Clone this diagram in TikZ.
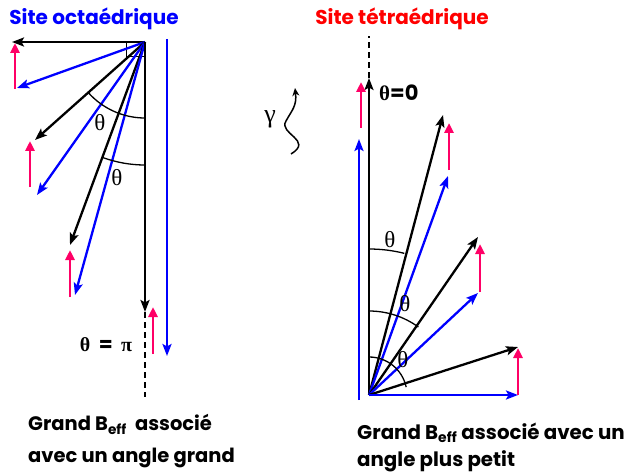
\documentclass[tikz,border=0pt]{standalone}
\usepackage{fontspec}
\setmainfont{Poppins}
\newfontfamily\grk{Liberation Serif}
\usetikzlibrary{arrows.meta}
\definecolor{vblue}{RGB}{0,0,255}
\definecolor{vpink}{RGB}{255,0,102}
\definecolor{vred}{RGB}{255,0,0}
\begin{document}
\begin{tikzpicture}[x=1pt,y=-1pt,
  vec/.style={line width=2.3pt,-{Stealth[length=12pt,width=9pt,inset=2.5pt]}},
  kvec/.style={vec,black},
  bvec/.style={vec,vblue},
  pvec/.style={line width=2.8pt,vpink,-{Triangle[length=10pt,width=9pt]}},
  arcl/.style={line width=1.3pt},
  ttl/.style={font=\fontsize{20}{22}\selectfont\bfseries,inner sep=0pt},
  txt/.style={font=\bfseries,inner sep=0pt,align=left,anchor=west},
  th/.style={font=\grk\fontsize{23}{23}\selectfont,inner sep=0pt}]
\useasboundingbox (0,0) rectangle (629,476);
% titles
\node[ttl,text=vblue] (t1) at (94,19) {Site octaédrique};
\node[ttl,text=vred] (t2) at (402,19) {Site tétraédrique};
% ---------- left
\coordinate (OL) at (145,42);
\coordinate (h1) at (12,42);
\coordinate (b1) at (17,88);
\coordinate (k2) at (35,140);
\coordinate (b2) at (37,195);
\coordinate (k3) at (70,245);
\coordinate (b3) at (75,295);
\coordinate (k4) at (145,312);
\coordinate (dL) at (145,397);
\coordinate (bvT) at (167,39);
\coordinate (bvB) at (167,356);
\node[draw,line width=1.3pt,minimum width=18pt,minimum height=14pt,inner sep=0pt,anchor=north east] (sq) at (OL) {};
\draw[kvec] (OL) -- (h1);
\draw[bvec] (OL) -- (b1);
\draw[kvec] (OL) -- (k2);
\draw[bvec] (OL) -- (b2);
\draw[kvec] (OL) -- (k3);
\draw[bvec] (OL) -- (b3);
\draw[kvec] (OL) -- (k4);
\draw[line width=1.4pt,dash pattern=on 6pt off 4pt] (k4) -- (dL);
\draw[bvec] (bvT) -- (bvB);
\coordinate (p1a) at (15,89); \coordinate (p1b) at (15,43);
\coordinate (p2a) at (30,187); \coordinate (p2b) at (30,141);
\coordinate (p3a) at (70,297); \coordinate (p3b) at (70,250);
\coordinate (p4a) at (153,354); \coordinate (p4b) at (153,307);
\draw[pvec] (p1a) -- (p1b);
\draw[pvec] (p2a) -- (p2b);
\draw[pvec] (p3a) -- (p3b);
\draw[pvec] (p4a) -- (p4b);
\draw[arcl] (OL) ++(90:76) arc[start angle=90,end angle=138,radius=76];
\draw[arcl] (OL) ++(90:123) arc[start angle=90,end angle=110,radius=123];
\node[th] (thl1) at (100,123) {θ};
\node[th] (thl2) at (117,178) {θ};
\node[inner sep=0pt,font=\fontsize{20}{20}\selectfont\bfseries] (thpi) at (106,345) {{\grk\bfseries θ}\ \ =\ \ {\grk\bfseries π}};
% ---------- right
\coordinate (OR) at (369,395);
\coordinate (k0) at (369,78);
\coordinate (dR) at (369,36);
\coordinate (bv0a) at (359,400);
\coordinate (bv0b) at (359,139);
\coordinate (kA) at (443,115);
\coordinate (bA) at (448,176);
\coordinate (kB) at (478,237);
\coordinate (bB) at (478,293);
\coordinate (kC) at (518,347);
\coordinate (bC) at (518,395);
\draw[kvec] (OR) -- (k0);
\draw[line width=1.4pt,dash pattern=on 6pt off 4pt] (k0) -- (dR);
\draw[bvec] (bv0a) -- (bv0b);
\draw[kvec] (OR) -- (kA);
\draw[bvec] (OR) -- (bA);
\draw[kvec] (OR) -- (kB);
\draw[bvec] (OR) -- (bB);
\draw[kvec] (OR) -- (kC);
\draw[bvec] (OR) -- (bC);
\coordinate (q0a) at (361,128); \coordinate (q0b) at (361,82);
\coordinate (qAa) at (449,170); \coordinate (qAb) at (449,123);
\coordinate (qBa) at (480,292); \coordinate (qBb) at (480,244);
\coordinate (qCa) at (518,395); \coordinate (qCb) at (518,348);
\draw[pvec] (q0a) -- (q0b);
\draw[pvec] (qAa) -- (qAb);
\draw[pvec] (qBa) -- (qBb);
\draw[pvec] (qCa) -- (qCb);
\draw[arcl] (OR) ++(-90:146) arc[start angle=-90,end angle=-76,radius=146];
\draw[arcl] (OR) ++(-90:84) arc[start angle=-90,end angle=-54,radius=84];
\draw[arcl] (OR) ++(-90:38) arc[start angle=-90,end angle=-12,radius=38];
\node[th] (thr1) at (390,240) {θ};
\node[th] (thr2) at (405,304) {θ};
\node[th] (thr3) at (403,360) {θ};
\node[inner sep=0pt,anchor=west,font=\fontsize{21}{21}\selectfont\bfseries] (th0) at (379,93) {{\grk\bfseries θ}=0};
% gamma
\node[th,font=\grk\fontsize{26}{26}\selectfont] (gam) at (270,119) {γ};
\coordinate (wA) at (291,154);
\coordinate (wB) at (295,88);
\draw[line width=1.5pt,-{Stealth[length=8pt,width=7pt]}] (wA) .. controls (314,140) and (278,134) .. (286,121) .. controls (292,110) and (297,106) .. (wB);
% bottom texts
\node[txt,font=\fontsize{19.5}{32}\selectfont\bfseries] (c1) at (28,441) {Grand B\textsubscript{eff}\ \ associé\\avec un angle grand};
\node[txt,font=\fontsize{19.8}{27}\selectfont\bfseries] (c2) at (357,447) {Grand B\textsubscript{eff} associé avec un\\angle plus petit};
\end{tikzpicture}
\end{document}
